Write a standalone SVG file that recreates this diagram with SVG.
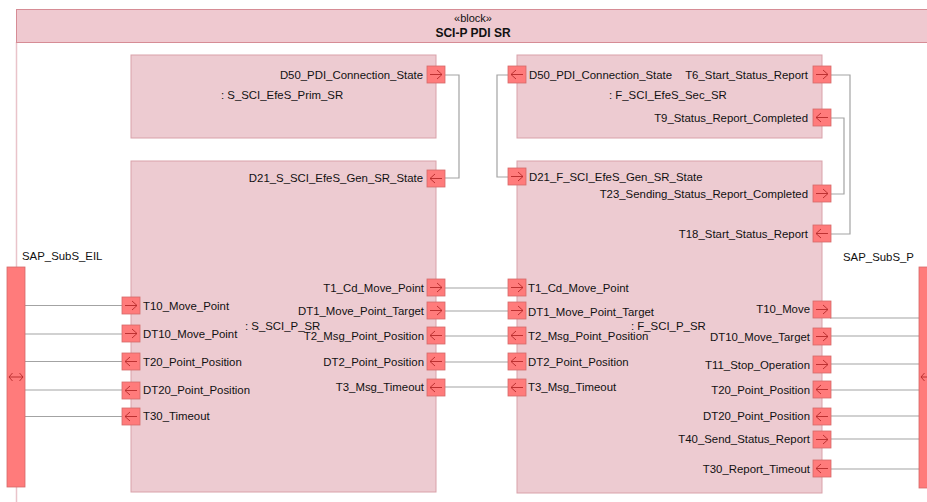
<svg xmlns="http://www.w3.org/2000/svg" xmlns:xlink="http://www.w3.org/1999/xlink" width="927" height="502" viewBox="0 0 927 502">
<style>
text{font-family:"Liberation Sans",Arial,sans-serif;font-size:11.4px;fill:#111}
.e{text-anchor:end}
.hd{font-size:11px;text-anchor:middle}
.ttl{font-size:12px;font-weight:bold;text-anchor:middle}
.blk{fill:#EDCBD1;stroke:#D9A1A9;stroke-width:1}
.port{fill:#FF7B7B;stroke:#D46A6A;stroke-width:0.8}
.arr{fill:none;stroke:#B52A2A;stroke-width:0.9}
.bar{fill:#FF7B7B;stroke:#D46A6A;stroke-width:0.8}
.con{fill:none;stroke:#A3A3A3;stroke-width:1.2}
</style>
<defs>
<g id="pr"><rect class="port" width="18" height="17"/><path class="arr" d="M3,8.5H15M10,4L15,8.5L10,13"/></g>
<g id="pl"><rect class="port" width="18" height="17"/><path class="arr" d="M3,8.5H15M8,4L3,8.5L8,13"/></g>
</defs>
<rect width="927" height="502" fill="#fff"/>
<g id="frame">
<line x1="16.5" y1="42" x2="16.5" y2="502" stroke="#E9C4CA" stroke-width="1.5"/>
<rect x="16.5" y="9.5" width="920" height="33" fill="#EFC9D0" stroke="#D68C95" stroke-width="1"/>
<text class="hd" x="473" y="22">«block»</text>
<text class="ttl" x="473" y="37">SCI-P PDI SR</text>
</g>
<g id="connectors">
<path class="con" d="M445,75H459V178H445"/>
<path class="con" d="M508,75H497V177H508"/>
<path class="con" d="M830,75H850V234H830"/>
<path class="con" d="M830,118H844V194H830"/>
<path class="con" d="M445,288H508M445,311H508M445,336H508M445,362H508M445,387H508"/>
<path class="con" d="M25,305.5H122M25,334H122M25,361.5H122M25,390H122M25,416.5H122"/>
<path class="con" d="M830,318H919M830,336H919M830,364H919M830,390H919M830,416H919M830,439H919M830,469H919"/>
</g>
<g id="S_SCI_EfeS_Prim_SR">
<rect class="blk" x="131" y="55" width="305" height="83"/>
<text x="221" y="99">: S_SCI_EfeS_Prim_SR</text>
<use xlink:href="#pr" x="427" y="66"/>
<text class="e" x="423" y="79">D50_PDI_Connection_State</text>
</g>
<g id="F_SCI_EfeS_Sec_SR">
<rect class="blk" x="517" y="55" width="305" height="83"/>
<text x="609" y="99">: F_SCI_EfeS_Sec_SR</text>
<use xlink:href="#pl" x="508" y="66"/>
<text x="529" y="79">D50_PDI_Connection_State</text>
<use xlink:href="#pr" x="813" y="66"/>
<text class="e" x="808" y="79">T6_Start_Status_Report</text>
<use xlink:href="#pl" x="813" y="109"/>
<text class="e" x="808" y="122">T9_Status_Report_Completed</text>
</g>
<g id="S_SCI_P_SR">
<rect class="blk" x="131" y="161" width="305" height="331"/>
<text x="245" y="330">: S_SCI_P_SR</text>
<use xlink:href="#pl" x="427" y="170"/>
<text class="e" x="423" y="182">D21_S_SCI_EfeS_Gen_SR_State</text>
<use xlink:href="#pr" x="427" y="279"/>
<text class="e" x="424" y="292">T1_Cd_Move_Point</text>
<use xlink:href="#pr" x="427" y="302"/>
<text class="e" x="424" y="315">DT1_Move_Point_Target</text>
<use xlink:href="#pl" x="427" y="327"/>
<text class="e" x="424" y="340">T2_Msg_Point_Position</text>
<use xlink:href="#pl" x="427" y="353"/>
<text class="e" x="424" y="366">DT2_Point_Position</text>
<use xlink:href="#pl" x="427" y="379"/>
<text class="e" x="424" y="391">T3_Msg_Timeout</text>
<use xlink:href="#pr" x="122" y="297"/>
<text x="143" y="310">T10_Move_Point</text>
<use xlink:href="#pr" x="122" y="325"/>
<text x="143" y="338">DT10_Move_Point</text>
<use xlink:href="#pl" x="122" y="353"/>
<text x="143" y="366">T20_Point_Position</text>
<use xlink:href="#pl" x="122" y="382"/>
<text x="143" y="394">DT20_Point_Position</text>
<use xlink:href="#pl" x="122" y="408"/>
<text x="143" y="420">T30_Timeout</text>
</g>
<g id="F_SCI_P_SR">
<rect class="blk" x="517" y="161" width="305" height="332"/>
<text x="631" y="330">: F_SCI_P_SR</text>
<use xlink:href="#pr" x="508" y="168"/>
<text x="529" y="181">D21_F_SCI_EfeS_Gen_SR_State</text>
<use xlink:href="#pr" x="813" y="185"/>
<text class="e" x="808" y="198">T23_Sending_Status_Report_Completed</text>
<use xlink:href="#pl" x="813" y="225"/>
<text class="e" x="808" y="238">T18_Start_Status_Report</text>
<use xlink:href="#pr" x="508" y="279"/>
<text x="528" y="292">T1_Cd_Move_Point</text>
<use xlink:href="#pr" x="508" y="302"/>
<text x="528" y="316">DT1_Move_Point_Target</text>
<use xlink:href="#pl" x="508" y="327"/>
<text x="528" y="340">T2_Msg_Point_Position</text>
<use xlink:href="#pl" x="508" y="353"/>
<text x="528" y="366">DT2_Point_Position</text>
<use xlink:href="#pl" x="508" y="379"/>
<text x="528" y="391">T3_Msg_Timeout</text>
<use xlink:href="#pr" x="813" y="301"/>
<text class="e" x="810" y="313">T10_Move</text>
<use xlink:href="#pr" x="813" y="328"/>
<text class="e" x="810" y="341">DT10_Move_Target</text>
<use xlink:href="#pr" x="813" y="356"/>
<text class="e" x="810" y="369">T11_Stop_Operation</text>
<use xlink:href="#pl" x="813" y="381"/>
<text class="e" x="810" y="394">T20_Point_Position</text>
<use xlink:href="#pl" x="813" y="408"/>
<text class="e" x="810" y="420">DT20_Point_Position</text>
<use xlink:href="#pr" x="813" y="431"/>
<text class="e" x="810" y="443">T40_Send_Status_Report</text>
<use xlink:href="#pl" x="813" y="460"/>
<text class="e" x="810" y="473">T30_Report_Timeout</text>
</g>
<g id="SAP_SubS_EIL">
<rect class="bar" x="7" y="267" width="18" height="220"/>
<path class="arr" d="M9,377H23M12.5,373L9,377L12.5,381M19.5,373L23,377L19.5,381"/>
<text x="22" y="260">SAP_SubS_EIL</text>
</g>
<g id="SAP_SubS_P">
<rect class="bar" x="919" y="267" width="20" height="221"/>
<path class="arr" d="M921,377H935M924.5,373L921,377L924.5,381"/>
<text x="843" y="261">SAP_SubS_P</text>
</g>
</svg>
